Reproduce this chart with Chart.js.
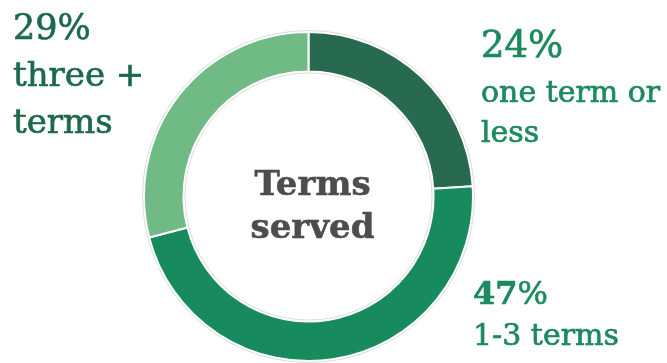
<!DOCTYPE html>
<html>
<head>
<meta charset="utf-8">
<script src="https://cdn.jsdelivr.net/npm/chart.js@4/dist/chart.umd.min.js"></script>
<style>
  html, body { margin:0; padding:0; background:#fff; }
  #wrap { width:667px; height:363px; position:relative; }
</style>
</head>
<body>
<div id="wrap"><canvas id="termsChart" width="667" height="363"></canvas></div>
<script>
// Terms served data
const categories = ["one term or less", "1-3 terms", "three + terms"];
const shares = [24, 47, 29];
const labelLines = [["one term or", "less"], ["1-3 terms"], ["three +", "terms"]];
const centerLines = ["Terms", "served"];
const sliceColors = ["#276a4f", "#178b5e", "#70ba86"];

// label placement for each slice: x, baseline of value, baselines of text lines, sizes, colour
const labelSpots = [
  { x:481, valueY:57, valueSize:37, valueBold:false, lineY:[102, 142], lineSize:30, color:"#1c8a5d" },
  { x:473, valueY:304, valueSize:32, valueBold:true, lineY:[345], lineSize:30, color:"#1c8a5d" },
  { x:13, valueY:39, valueSize:35, valueBold:false, lineY:[86, 133], lineSize:34, color:"#1d6a4b" }
];

const SERIF = '"DejaVu Serif", serif';

// thin grey rings just outside and inside the donut
const ringOutline = {
  id: "ringOutline",
  afterDatasetsDraw(chart) {
    const arc = chart.getDatasetMeta(0).data[0];
    if(!arc) return;
    const ctx = chart.ctx;
    ctx.save();
    ctx.strokeStyle = "#dcdcdc"; ctx.lineWidth = 1;
    ctx.beginPath(); ctx.arc(arc.x, arc.y, arc.outerRadius + 1.5, 0, Math.PI*2); ctx.stroke();
    ctx.beginPath(); ctx.arc(arc.x, arc.y, arc.innerRadius - 1.5, 0, Math.PI*2); ctx.stroke();
    ctx.restore();
  }
};

// fill plus a hairline stroke so the serif reads a bit heavier
function heavyText(ctx, t, x, y, w) {
  ctx.fillText(t, x, y);
  ctx.lineWidth = w; ctx.strokeText(t, x, y);
  return ctx.measureText(t).width;
}

// centre title and the percentage labels round the ring
const textLabels = {
  id: "textLabels",
  afterDraw(chart) {
    const ctx = chart.ctx;
    const arc = chart.getDatasetMeta(0).data[0];
    ctx.save();
    ctx.textAlign = "center"; ctx.textBaseline = "alphabetic";
    ctx.fillStyle = ctx.strokeStyle = "#4d4d4d";
    ctx.font = "bold 34px " + SERIF;
    heavyText(ctx, centerLines[0], arc.x + 4, 195, 0.6);
    heavyText(ctx, centerLines[1], arc.x + 4, 238, 0.6);

    ctx.textAlign = "left";
    shares.forEach((v, i) => {
      const s = labelSpots[i];
      ctx.fillStyle = ctx.strokeStyle = s.color;
      ctx.font = (s.valueBold ? "bold " : "") + s.valueSize + "px " + SERIF;
      const w = heavyText(ctx, String(v), s.x, s.valueY, 0.7);
      ctx.font = s.valueSize + "px " + SERIF;
      heavyText(ctx, "%", s.x + w, s.valueY, 0.7);
      ctx.font = s.lineSize + "px " + SERIF;
      labelLines[i].forEach((t, j) => heavyText(ctx, t, s.x, s.lineY[j], 0.7));
    });
    ctx.restore();
  }
};

new Chart(document.getElementById("termsChart"), {
  type: "doughnut",
  data: {
    labels: categories,
    datasets: [{
      data: shares,
      backgroundColor: sliceColors,
      borderColor: "#ffffff",
      borderWidth: 2
    }]
  },
  options: {
    responsive: false,
    animation: false,
    cutout: "76%",
    layout: { padding: { left:143, right:193, top:31, bottom:1 } },
    plugins: { legend: { display:false }, tooltip: { enabled:false } }
  },
  plugins: [ringOutline, textLabels]
});
</script>
</body>
</html>
